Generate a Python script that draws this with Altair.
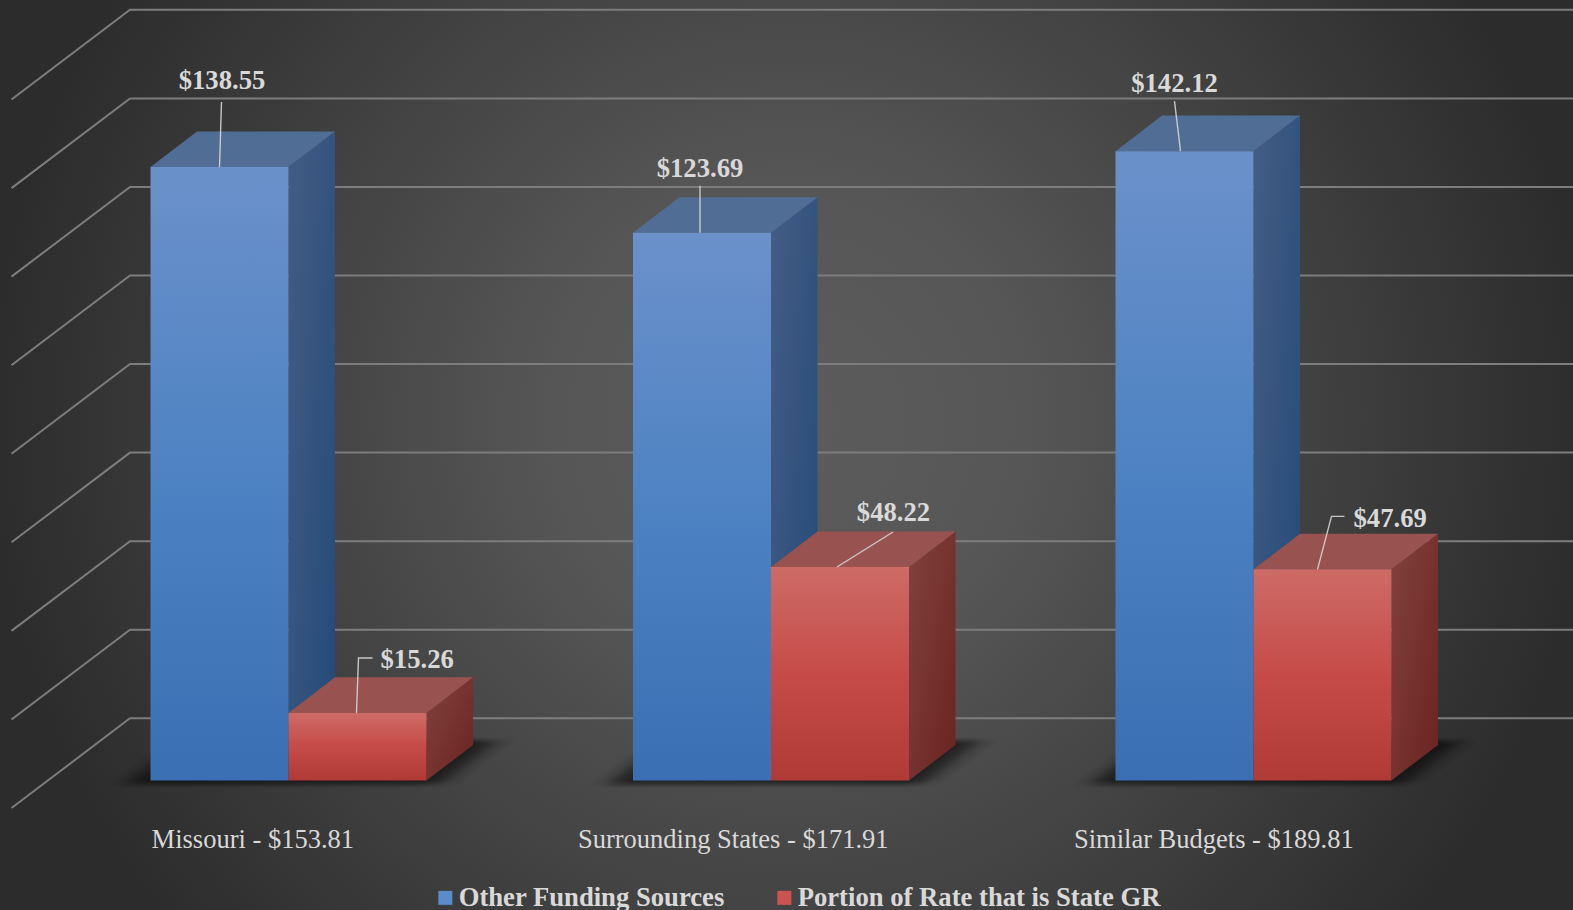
import altair as alt
import pandas as pd

# Per-member-month rate by comparison group
categories = ["Missouri", "Surrounding States", "Similar Budgets"]
other_funding = [138.55, 123.69, 142.12]
state_gr = [15.26, 48.22, 47.69]
totals = [153.81, 171.91, 189.81]
series_names = ["Other Funding Sources", "Portion of Rate that is State GR"]
grid_ticks = [0, 20, 40, 60, 80, 100, 120, 140, 160]

W, H = 1573, 910
PX_PER_DOLLAR = 4.428
ZERO_PX = 780.5
GROUP_LEFT, GROUP_STEP, BAR_W = 150.5, 482.5, 138
CAT_CENTER, CAT_STEP = 252.8, 480.5
DEPTH_X, DEPTH_PX = 46.5, 35.6
DEPTH_Y = DEPTH_PX / PX_PER_DOLLAR
FONT = "Liberation Serif"
TEXT = "#d9d9d9"

sx = alt.Scale(domain=[0, W], range=[0, W], zero=False, nice=False)
sy = alt.Scale(domain=[-(H - ZERO_PX) / PX_PER_DOLLAR, ZERO_PX / PX_PER_DOLLAR],
               range=[H, 0], zero=False, nice=False)
X = alt.X("x:Q", scale=sx, axis=None)
Y = alt.Y("y:Q", scale=sy, axis=None)


def dollars(px):
    return px / PX_PER_DOLLAR


def group_left(i):
    return GROUP_LEFT + i * GROUP_STEP


def lin(stops):
    return {"gradient": "linear", "x1": 0, "y1": 0, "x2": 0, "y2": 1,
            "stops": [{"offset": o, "color": c} for o, c in stops]}


def diag(a, b):
    return {"gradient": "linear", "x1": 0, "y1": 0, "x2": 1, "y2": 1,
            "stops": [{"offset": 0, "color": a}, {"offset": 1, "color": b}]}


def parallelogram(key, left, width, y_front, y_back, dx=DEPTH_X):
    return [
        {"k": key, "x": left, "y": y_front, "y2": y_front},
        {"k": key, "x": left + dx, "y": y_back, "y2": y_front},
        {"k": key, "x": left + width, "y": y_back, "y2": y_front},
        {"k": key, "x": left + width + dx, "y": y_back, "y2": y_back},
    ]


def area_layer(rows, **mark):
    return alt.Chart(pd.DataFrame(rows)).mark_area(
        orient="vertical", strokeWidth=0, **mark
    ).encode(x=X, y=Y, y2="y2:Q", detail="k:N")


# Backdrop: a square so the radial falloff stays circular on the wide canvas
backdrop = alt.Chart(alt.Data(values=[{}])).mark_rect(
    color={"gradient": "radial", "x1": 0.5, "y1": 0.5, "x2": 0.5, "y2": 0.5,
           "r1": 0, "r2": 0.5,
           "stops": [{"offset": 0, "color": "#5c5c5c"},
                     {"offset": 0.3, "color": "#565656"},
                     {"offset": 0.53, "color": "#484848"},
                     {"offset": 0.62, "color": "#434343"},
                     {"offset": 0.8, "color": "#383838"},
                     {"offset": 1, "color": "#2c2c2c"}]}
).encode(x=alt.value(790 - 800), x2=alt.value(790 + 800),
         y=alt.value(420 - 800), y2=alt.value(420 + 800))

# Wall and floor rules
wall_rows = []
for t in grid_ticks:
    for order, (x, y) in enumerate([(11.5, t - dollars(27.5)),
                                    (130, t + dollars(62.2)),
                                    (W, t + dollars(62.2))]):
        wall_rows.append({"k": t, "o": order, "x": x, "y": y})
walls = alt.Chart(pd.DataFrame(wall_rows)).mark_line(
    color="#7d7d7d", strokeWidth=2
).encode(x=X, y=Y, detail="k:N", order="o:Q")

# Soft floor shadows: one-pixel strips sheared along the floor, each faded
# sideways by a gradient and towards the front and back by its own opacity
SHADOW_GROW = 40
FRONT_FADE, BACK_FADE = 8, 7
shadow_rows = []
for i in range(3):
    for row in range(int(DEPTH_PX + FRONT_FADE + BACK_FADE) + 1):
        up = row - FRONT_FADE
        if up < 0:
            fade = 1 + up / FRONT_FADE
        elif up > DEPTH_PX:
            fade = max(0, 1 - (up - DEPTH_PX) / BACK_FADE)
        else:
            fade = 1
        left = group_left(i) - SHADOW_GROW + up / DEPTH_PX * DEPTH_X
        shadow_rows.append({
            "x": left, "x2": left + 2 * BAR_W + 2 * SHADOW_GROW,
            "y": dollars(up), "y2": dollars(up + 1), "a": fade,
        })
shadow_fill = {
    "gradient": "linear", "x1": 0, "y1": 0, "x2": 1, "y2": 0,
    "stops": [{"offset": o, "color": f"rgba(0,0,0,{c})"} for o, c in [
        (0, 0), (0.04, 0.15), (0.08, 0.5), (0.115, 0.72),
        (0.885, 0.72), (0.92, 0.5), (0.96, 0.15), (1, 0)]],
}
shadows = alt.Chart(pd.DataFrame(shadow_rows)).mark_rect(color=shadow_fill).encode(
    x=X, x2="x2:Q", y=Y, y2="y2:Q", opacity=alt.Opacity("a:Q", scale=None))


def bar_layers(values, left_of, front, side, top):
    side_rows, top_rows, front_rows = [], [], []
    for i, v in enumerate(values):
        left = left_of(i)
        right = left + BAR_W
        side_rows += [{"k": i, "x": right, "y": v, "y2": 0},
                      {"k": i, "x": right + DEPTH_X, "y": v + DEPTH_Y, "y2": DEPTH_Y}]
        top_rows += parallelogram(i, left, BAR_W, v, v + DEPTH_Y)
        front_rows.append({"x": left, "x2": right, "y": v, "y2": 0})
    return [
        area_layer(side_rows, color=side),
        area_layer(top_rows, color=top),
        alt.Chart(pd.DataFrame(front_rows)).mark_rect(color=front).encode(
            x=X, x2="x2:Q", y=Y, y2="y2:Q"),
    ]


blue_faces = bar_layers(
    other_funding, group_left,
    lin([(0, "#6b91ca"), (0.55, "#4b81c2"), (1, "#3a70b3")]),
    diag("#445d85", "#234a78"), "#506d96")
red_faces = bar_layers(
    state_gr, lambda i: group_left(i) + BAR_W,
    lin([(0, "#cd6b67"), (0.5, "#c64b48"), (1, "#b03a36")]),
    diag("#82423e", "#6a2321"), "#98524f")

# Leader lines and value labels, placed relative to each bar's front-top edge.
# Each entry: bar left, bar value, leader path as (x px, height px above the top), label anchor
labels = [
    (group_left(0), other_funding[0], [(69, 0), (71, 65)], (71.5, 86), "center"),
    (group_left(0) + BAR_W, state_gr[0], [(68, 0), (70, 55), (84, 55)], (92, 53), "left"),
    (group_left(1), other_funding[1], [(67, 0), (67, 47)], (67, 63.5), "center"),
    (group_left(1) + BAR_W, state_gr[1], [(66, 0), (122, 35)], (122.5, 53.5), "center"),
    (group_left(2), other_funding[2], [(65, 0), (59, 50)], (59, 67), "center"),
    (group_left(2) + BAR_W, state_gr[2], [(64, 0), (78, 53), (91, 53)], (100, 50.5), "left"),
]
leader_rows, text_rows = [], []
for n, (left, v, path, anchor, align) in enumerate(labels):
    for o, (dx, up) in enumerate(path):
        leader_rows.append({"k": n, "o": o, "x": left + dx, "y": v + dollars(up)})
    text_rows.append({"x": left + anchor[0], "y": v + dollars(anchor[1]),
                      "t": f"${v:.2f}", "a": align})
leaders = alt.Chart(pd.DataFrame(leader_rows)).mark_line(
    color="#d4d4d4", strokeWidth=1.4, opacity=0.9
).encode(x=X, y=Y, detail="k:N", order="o:Q")
text_center = alt.Chart(pd.DataFrame([r for r in text_rows if r["a"] == "center"])).mark_text(
    font=FONT, fontSize=26.67, fontWeight="bold", color=TEXT, align="center", baseline="middle"
).encode(x=X, y=Y, text="t:N")
text_left = alt.Chart(pd.DataFrame([r for r in text_rows if r["a"] == "left"])).mark_text(
    font=FONT, fontSize=26.67, fontWeight="bold", color=TEXT, align="left", baseline="middle"
).encode(x=X, y=Y, text="t:N")

# Category labels beneath each pair of bars
cat_rows = [{"x": CAT_CENTER + i * CAT_STEP, "y": dollars(-59.5),
             "t": f"{c} - ${totals[i]:.2f}"} for i, c in enumerate(categories)]
cat_text = alt.Chart(pd.DataFrame(cat_rows)).mark_text(
    font=FONT, fontSize=26.5, color=TEXT, align="center", baseline="middle"
).encode(x=X, y=Y, text="t:N")

# Legend carried by an unseen layer
legend_rows = [{"x": 0, "y": 0, "s": s} for s in series_names]
legend_layer = alt.Chart(pd.DataFrame(legend_rows)).mark_square(opacity=0).encode(
    x=X, y=Y,
    color=alt.Color("s:N",
                    scale=alt.Scale(domain=series_names, range=["#5a8cca", "#cc5450"]),
                    legend=alt.Legend(
                        orient="none", legendX=432, legendY=884, direction="horizontal",
                        title=None, labelFont=FONT, labelFontSize=26.67,
                        labelFontWeight="bold", labelColor=TEXT, symbolType="square",
                        symbolSize=196, symbolOpacity=1, symbolStrokeWidth=0,
                        columnPadding=46, labelOffset=0, labelLimit=500,
                        padding=0, columns=2)),
)

chart = alt.layer(
    backdrop, walls, shadows, *blue_faces, *red_faces,
    leaders, text_center, text_left, cat_text, legend_layer
).properties(
    width=W, height=H, padding=0,
    autosize=alt.AutoSizeParams(type="none"),
).configure_view(strokeWidth=0)

chart.save("out.html", embed_options={"renderer": "svg", "actions": False})
